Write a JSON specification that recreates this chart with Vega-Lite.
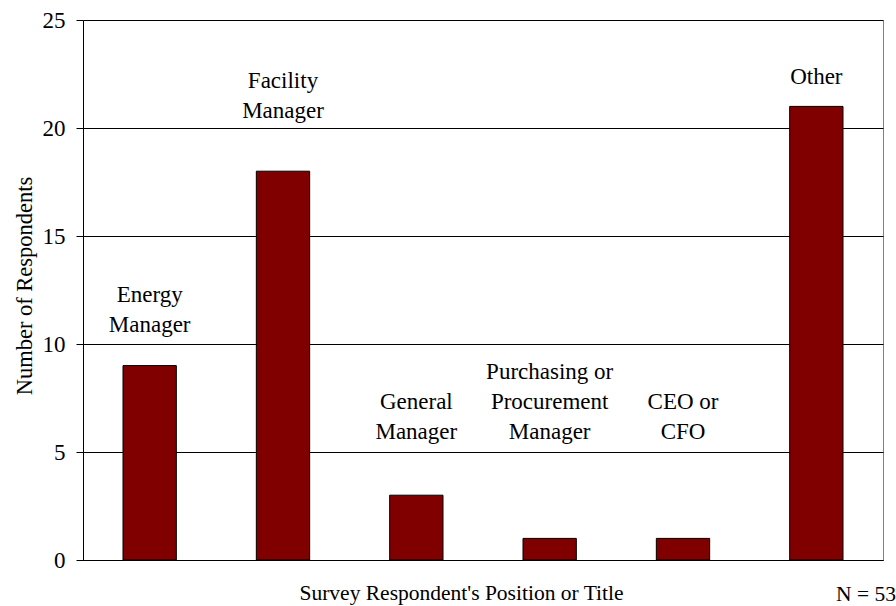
{
  "$schema": "https://vega.github.io/schema/vega-lite/v6.json",
  "width": 800,
  "height": 540,
  "autosize": "none",
  "padding": {"left": 83, "top": 20, "right": 13, "bottom": 46},
  "background": "white",
  "config": {
    "view": {"stroke": "#808080", "strokeWidth": 1},
    "font": "Liberation Serif"
  },
  "title": {
    "text": "N = 53",
    "orient": "bottom",
    "anchor": "end",
    "frame": "group",
    "font": "Liberation Serif",
    "fontSize": 21.5,
    "fontWeight": "normal",
    "color": "black",
    "baseline": "alphabetic",
    "offset": -3,
    "dx": 13
  },
  "data": {
    "values": [
      {"position": "Energy Manager", "count": 9, "label": "Energy\nManager", "labelY": 11.93},
      {"position": "Facility Manager", "count": 18, "label": "Facility\nManager", "labelY": 21.83},
      {"position": "General Manager", "count": 3, "label": "General\nManager", "labelY": 6.98},
      {"position": "Purchasing or Procurement Manager", "count": 1, "label": "Purchasing or\nProcurement\nManager", "labelY": 8.37},
      {"position": "CEO or CFO", "count": 1, "label": "CEO or\nCFO", "labelY": 6.98},
      {"position": "Other", "count": 21, "label": "Other", "labelY": 22.06}
    ]
  },
  "encoding": {
    "x": {
      "field": "position",
      "type": "nominal",
      "sort": null,
      "scale": {"paddingInner": 0.6, "paddingOuter": 0.3},
      "axis": {
        "labels": false,
        "ticks": false,
        "domainColor": "black",
        "domainWidth": 1,
        "title": "Survey Respondent's Position or Title",
        "titleFont": "Liberation Serif",
        "titleFontSize": 21.5,
        "titleFontWeight": "normal",
        "titleColor": "black",
        "titleBaseline": "alphabetic",
        "titleX": 378,
        "titleY": 39
      }
    }
  },
  "layer": [
    {
      "mark": {"type": "bar", "color": "#800000", "stroke": "black", "strokeWidth": 1},
      "encoding": {
        "y": {
          "field": "count",
          "type": "quantitative",
          "scale": {"domain": [0, 25], "nice": false},
          "axis": {
            "values": [0, 5, 10, 15, 20, 25],
            "grid": true,
            "gridColor": "black",
            "gridWidth": 1,
            "gridOpacity": 1,
            "domainColor": "black",
            "tickColor": "black",
            "tickSize": 7,
            "labelPadding": 11,
            "labelFont": "Liberation Serif",
            "labelFontSize": 23,
            "labelColor": "black",
            "title": "Number of Respondents",
            "titleFont": "Liberation Serif",
            "titleFontSize": 22.5,
            "titleFontWeight": "normal",
            "titleColor": "black",
            "titleBaseline": "alphabetic",
            "titleAngle": -90,
            "titleX": -52,
            "titleY": 265.5,
            "titleAlign": "center"
          }
        }
      }
    },
    {
      "mark": {
        "type": "text",
        "align": "center",
        "baseline": "alphabetic",
        "lineBreak": "\n",
        "lineHeight": 30,
        "font": "Liberation Serif",
        "fontSize": 23,
        "color": "black"
      },
      "encoding": {
        "y": {"field": "labelY", "type": "quantitative"},
        "text": {"field": "label", "type": "nominal"}
      }
    }
  ]
}
